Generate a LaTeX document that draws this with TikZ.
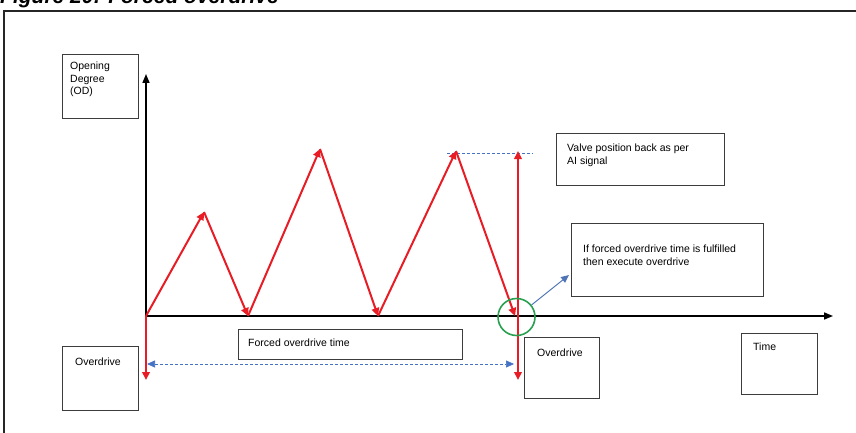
\documentclass[tikz,border=0pt]{standalone}
\usepackage{fontspec}
\setmainfont{Liberation Sans}
\usetikzlibrary{arrows.meta}
\definecolor{rd}{RGB}{232,28,36}
\definecolor{bl}{RGB}{68,114,196}
\definecolor{gr}{RGB}{40,160,80}
\definecolor{bx}{RGB}{60,60,60}
\tikzset{
  lbl/.style={draw=bx,line width=0.9pt,anchor=north west,inner sep=0pt},
  txt/.style={anchor=north west,font=\fontsize{10.5}{12.5}\selectfont,align=left,inner sep=0pt},
  redarr/.style={rd,line width=2pt,-{Triangle[length=8pt,width=7.5pt]}},
  axis/.style={black,line width=1.6pt,-{Triangle[length=9pt,width=7pt]}},
}
\begin{document}
\begin{tikzpicture}[x=1pt,y=-1pt]
\useasboundingbox (0,0) rectangle (856,433);
% title (clipped at top as in the reference)
\node[anchor=base west,inner sep=0pt,font=\fontsize{21}{21}\selectfont\bfseries\itshape] (title) at (0,3.5) {Figure 20: Forced overdrive};
% frame
\draw[line width=1.4pt,black!85] (4,440) -- (4,11) -- (860,11);
% boxes
\draw[lbl] (62,54) rectangle (138,118);
\node[txt] (od) at (70,62) {Opening\\Degree\\(OD)};
\draw[lbl] (62,346) rectangle (138,410);
\node[txt] (ovl) at (75,358) {Overdrive};
\draw[lbl] (238,329) rectangle (462,359);
\node[txt] (fot) at (248,339) {Forced overdrive time};
\draw[lbl] (524,337) rectangle (599,398);
\node[txt] (ovr) at (537,349) {Overdrive};
\draw[lbl] (741,333) rectangle (817,394);
\node[txt] (time) at (753,343) {Time};
\draw[lbl] (556,133) rectangle (724,185);
\node[txt] (valve) at (567,144) {Valve position back as per\\AI signal};
\draw[lbl] (571,223) rectangle (763,296);
\node[txt] (iff) at (583,245) {If forced overdrive time is fulfilled\\then execute overdrive};
% coordinates
\coordinate (o) at (146,316);
\coordinate (ytop) at (146,74);
\coordinate (xend) at (833,316);
\coordinate (p1) at (204,212);
\coordinate (v1) at (248,316);
\coordinate (p2) at (320,149);
\coordinate (v2) at (378,316);
\coordinate (p3) at (456,151);
\coordinate (v3) at (515,316);
\coordinate (q) at (518,316);
\coordinate (qtop) at (518,151);
\coordinate (qbot) at (518,380);
\coordinate (obot) at (146,380);
\coordinate (dl) at (147,364);
\coordinate (dr) at (514,364);
\coordinate (hl) at (447,153);
\coordinate (hr) at (533,153);
\coordinate (iffcorner) at (569,275);
% axes
\draw[axis] (o) -- (ytop);
\draw[axis] (o) -- (xend);
% dashed lines
\draw[bl,line width=0.7pt,dash pattern=on 3pt off 2pt] (hl) -- (hr);
\draw[bl,line width=0.7pt,dash pattern=on 3pt off 2pt,{Triangle[length=8pt,width=7pt]}-{Triangle[length=8pt,width=7pt]}] (dl) -- (dr);
% zigzag
\draw[redarr] (o) -- (p1);
\draw[redarr] (p1) -- (v1);
\draw[redarr] (v1) -- (p2);
\draw[redarr] (p2) -- (v2);
\draw[redarr] (v2) -- (p3);
\draw[redarr] (p3) -- (v3);
\draw[redarr] (q) -- (qtop);
\draw[redarr] (q) -- (qbot);
\draw[redarr] (o) -- (obot);
% circle
\node[draw=gr,line width=1.6pt,circle,minimum size=37pt,inner sep=0pt] (circ) at (516.5,317) {};
\draw[bl!80!gray,line width=1pt,-{Triangle[length=8pt,width=7pt]}] (circ) -- (iffcorner);
\end{tikzpicture}
\end{document}
